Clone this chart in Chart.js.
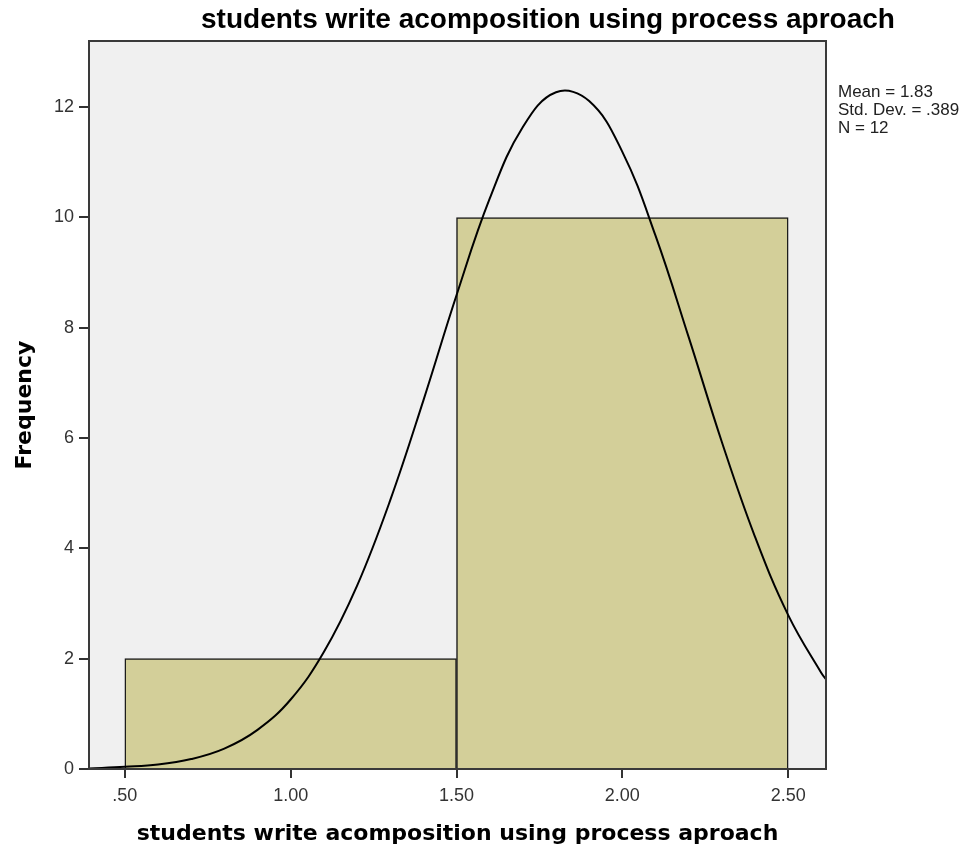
<!DOCTYPE html>
<html>
<head>
    <title>Histogram</title>
    <script src="https://cdn.jsdelivr.net/npm/chart.js"></script>
    <style>
        body { margin: 0; background: #fff; }
        #wrap { width: 978px; height: 853px; }
    </style>
</head>
<body>
    <div id="wrap"><canvas id="histChart" width="978" height="853"></canvas></div>

    <script>
        // bins (centre, frequency)
        const binCenters = [1.0, 2.0];
        const binCounts = [2, 10];

        // normal curve
        const curveX = [0.39, 0.5, 0.6, 0.7, 0.8, 0.9, 1.0, 1.1, 1.2, 1.3, 1.4, 1.5, 1.6, 1.7, 1.8, 1.9, 2.0, 2.1, 2.2, 2.3, 2.4, 2.5, 2.6, 2.62];
        const curveY = [0.01, 0.04, 0.08, 0.18, 0.37, 0.71, 1.26, 2.12, 3.32, 4.87, 6.68, 8.59, 10.34, 11.64, 12.27, 12.11, 11.19, 9.67, 7.83, 5.93, 4.21, 2.79, 1.74, 1.58];

        const xTicks = [0.5, 1.0, 1.5, 2.0, 2.5];
        const yTicks = [0, 2, 4, 6, 8, 10, 12];

        const chartTitle = 'students write acomposition using process aproach';
        const xTitle = 'students write acomposition using process aproach';
        const yTitle = 'Frequency';
        const statsLines = ['Mean = 1.83', 'Std. Dev. = .389', 'N = 12'];

        const extras = {
            id: 'extras',
            beforeDraw(chart) {
                const { ctx, chartArea: a } = chart;
                ctx.save();
                ctx.fillStyle = '#f0f0f0';
                ctx.fillRect(a.left, a.top, a.right - a.left, a.bottom - a.top);
                ctx.restore();
            },
            afterDraw(chart) {
                const { ctx, chartArea: a } = chart;
                ctx.save();
                ctx.strokeStyle = '#3a3a3a';
                ctx.lineWidth = 2;
                ctx.strokeRect(a.left, a.top, a.right - a.left, a.bottom - a.top);

                ctx.fillStyle = '#000';
                ctx.textAlign = 'center';
                ctx.textBaseline = 'middle';
                ctx.font = 'bold 28px "Liberation Sans", Arial, sans-serif';
                ctx.fillText(chartTitle, 548, 20);

                ctx.font = 'bold 22px "DejaVu Sans", Verdana, sans-serif';
                ctx.fillText(xTitle, (a.left + a.right) / 2, 834);

                ctx.save();
                ctx.translate(25, 405);
                ctx.rotate(-Math.PI / 2);
                ctx.font = 'bold 22px "DejaVu Sans", Verdana, sans-serif';
                ctx.fillText(yTitle, 0, 0);
                ctx.restore();

                ctx.fillStyle = '#222';
                ctx.textAlign = 'left';
                ctx.font = '17px "Liberation Sans", Arial, sans-serif';
                statsLines.forEach((s, i) => ctx.fillText(s, a.right + 12, 92 + i * 18));
                ctx.restore();
            }
        };

        new Chart(document.getElementById('histChart'), {
            type: 'bar',
            data: {
                datasets: [
                    {
                        type: 'line',
                        data: curveX.map((x, i) => ({ x: x, y: curveY[i] })),
                        borderColor: '#000',
                        borderWidth: 2,
                        pointRadius: 0,
                        tension: 0.4,
                        fill: false
                    },
                    {
                        type: 'bar',
                        data: binCenters.map((x, i) => ({ x: x, y: binCounts[i] })),
                        backgroundColor: '#d3cf99',
                        borderColor: '#1a1a1a',
                        borderWidth: 1.5,
                        barThickness: 'flex',
                        categoryPercentage: 1,
                        barPercentage: 1
                    }
                ]
            },
            options: {
                responsive: false,
                animation: false,
                layout: { padding: { top: 41, right: 152, left: 0, bottom: 0 } },
                plugins: { legend: { display: false }, tooltip: { enabled: false }, title: { display: false } },
                scales: {
                    x: {
                        type: 'linear',
                        offset: false,
                        min: 0.392,
                        max: 2.614,
                        afterBuildTicks: s => { s.ticks = xTicks.map(v => ({ value: v })); },
                        afterFit: s => { s.height = 84; },
                        grid: { offset: false, drawOnChartArea: false, tickLength: 9, color: '#333', lineWidth: 2 },
                        border: { display: true, color: '#3a3a3a', width: 2 },
                        ticks: {
                            color: '#333',
                            font: { family: '"Liberation Sans", Arial, sans-serif', size: 18 },
                            padding: 7,
                            maxRotation: 0,
                            callback: v => v.toFixed(2).replace(/^0/, '')
                        }
                    },
                    y: {
                        min: 0,
                        max: 13.2,
                        afterBuildTicks: s => { s.ticks = yTicks.map(v => ({ value: v })); },
                        afterFit: s => { s.width = 89; },
                        grid: { drawOnChartArea: false, tickLength: 10, color: '#333', lineWidth: 2 },
                        border: { display: true, color: '#3a3a3a', width: 2 },
                        ticks: {
                            color: '#333',
                            font: { family: '"Liberation Sans", Arial, sans-serif', size: 18 },
                            padding: 5
                        }
                    }
                }
            },
            plugins: [extras]
        });
    </script>
</body>
</html>
